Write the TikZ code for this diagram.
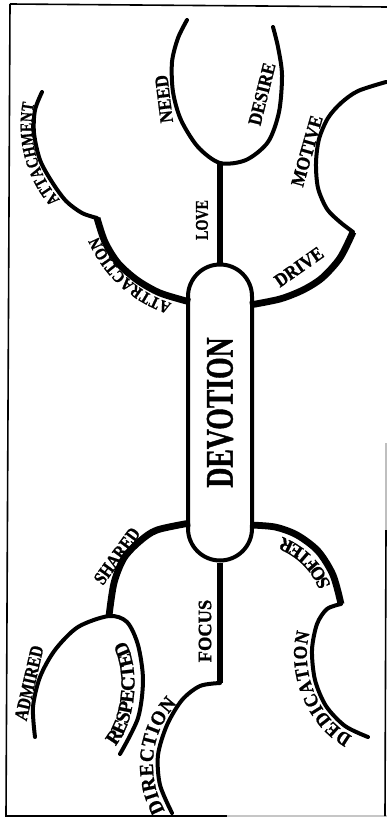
\documentclass[tikz,border=0pt]{standalone}
\usepackage{fontspec}
\setmainfont{Liberation Serif}[FakeBold=1]
\usepackage{graphicx}
\usetikzlibrary{decorations.text}
\newcommand\lblf[2]{\fontsize{#1}{#1}\selectfont\bfseries\addfontfeature{FakeStretch=#2}}
\newcommand\fATTR{\lblf{17}{0.85}}
\newcommand\fATTA{\lblf{17.5}{0.78}}
\newcommand\fRESP{\lblf{20}{1.0}}
\newcommand\fDIRE{\lblf{20}{0.95}}
\newcommand\fSOFT{\lblf{19}{0.97}}
\newcommand\fDEDI{\lblf{19.5}{0.9}}
\tikzset{
  thinbr/.style={line width=4pt, line cap=round, line join=round},
  thickbr/.style={line width=6.8pt, line cap=butt, line join=round},
  lbl/.style={inner sep=0pt},
  frameline/.style={line width=1.6pt},
  pill/.style={draw, line width=4pt, rounded corners=32pt, minimum width=64pt,
    minimum height=296pt, inner sep=0pt},
  curvelbl/.style n args={3}{decorate, decoration={text along path, text={#1},
    text align={left indent=#2}, raise=#3}}
}
\begin{document}
\begin{tikzpicture}[x=1pt,y=-1pt]
\useasboundingbox (0,0) rectangle (387,818);
% frame
\draw[frameline] (10,4) -- (387,7);
\draw[frameline] (10,4) -- (6,816) -- (227,816);
\draw[frameline, gray!45] (227,816) -- (387,816);
\draw[frameline, gray!50] (386,443) -- (386,530);
\draw[frameline] (386,530) -- (385,816);
% central node
\node[pill] (dev) at (220,412.5) {\rotatebox{90}{\lblf{39}{0.71}DEVOTION}};
% junctions
\coordinate (loveJ) at (220,163);
\coordinate (needE) at (187,20);
\coordinate (desireE) at (273,27);
\coordinate (driveS) at (250,305);
\coordinate (driveE) at (353,232);
\coordinate (motiveE) at (386,82);
\coordinate (attrS) at (190,302);
\coordinate (attrE) at (97,218);
\coordinate (attachE) at (42,92);
\coordinate (sharedS) at (190,523);
\coordinate (sharedE) at (109,616);
\coordinate (admE) at (35,737);
\coordinate (respE) at (120,754);
\coordinate (focusJ) at (220,683);
\coordinate (dirE) at (172,813);
\coordinate (softS) at (250,525);
\coordinate (softE) at (341,604);
\coordinate (dedE) at (368,737);
% branches
\draw[thickbr] (dev.north) -- (loveJ);
\draw[thinbr] plot[smooth] coordinates {(needE) (178,38) (172,62) (173,92) (181,120) (198,147) (loveJ) (246,160) (268,142) (279,112) (282,75) (278,47) (desireE)};
\draw[thickbr] plot[smooth] coordinates {(driveS) (280,299) (303,290) (322,278) (340,258) (driveE)};
\draw[thinbr] plot[smooth] coordinates {(driveE) (340,222) (327,209) (318,188) (316,163) (319,139) (328,118) (341,103) (358,91) (motiveE)};
\draw[thickbr] plot[smooth] coordinates {(attrS) (160,293) (137,280) (118,263) (105,242) (attrE)};
\draw[thinbr] plot[smooth] coordinates {(attrE) (82,213) (66,201) (52,182) (40,160) (34,133) (35,110) (attachE)};
\draw[thickbr] plot[smooth] coordinates {(sharedS) (157,530) (140,541) (124,558) (114,583) (sharedE)};
\draw[thinbr] plot[smooth] coordinates {(admE) (33,707) (40,677) (55,650) (78,627) (sharedE) (127,622) (138,645) (143,680) (138,718) (respE)};
\draw[thickbr] (dev.south) -- (focusJ);
\draw[thinbr] plot[smooth] coordinates {(focusJ) (200,686) (182,700) (167,725) (158,755) (160,785) (dirE)};
\draw[thickbr] plot[smooth] coordinates {(softS) (275,527) (297,535) (318,551) (333,575) (softE)};
\draw[thinbr] plot[smooth] coordinates {(softE) (327,609) (317,624) (312,650) (315,680) (326,706) (345,726) (dedE)};
% straight labels
\node[lbl, rotate=97, font={\lblf{19}{0.91}}] (need) at (164,99) {NEED};
\node[lbl, rotate=76, font={\lblf{19}{0.9}}] (desire) at (262,94) {DESIRE};
\node[lbl, rotate=90, font={\lblf{18}{0.78}}] (love) at (202,220) {LOVE};
\node[lbl, rotate=74, font={\lblf{19}{0.92}}] (motive) at (307,151) {MOTIVE};
\node[lbl, rotate=35, font={\lblf{19}{0.9}}] (drive) at (299,267) {DRIVE};
\node[lbl, rotate=54, font={\lblf{19}{0.82}}] (shared) at (117,556) {SHARED};
\node[lbl, rotate=77, font={\lblf{19}{0.82}}] (admired) at (29,683) {ADMIRED};
\node[lbl, rotate=90, font={\lblf{19}{0.97}}] (focus) at (205,631) {FOCUS};
% curved labels (text along the branches)
\path[curvelbl={|\fATTR|ATTRACTION}{17pt}{5.5pt}] (attrS) .. controls (150,296) and (105,265) .. (95,205);
\path[curvelbl={|\fATTA|ATTACHMENT}{40pt}{5pt}] (attrE) .. controls (55,205) and (25,150) .. (attachE);
\path[curvelbl={|\fRESP|RESPECTED}{4pt}{9pt}] (respE) .. controls (152,722) and (154,630) .. (sharedE);
\path[curvelbl={|\fDIRE|DIRECTION}{5pt}{5pt}] (dirE) .. controls (145,770) and (155,705) .. (focusJ);
\path[curvelbl={|\fSOFT|SOFTER}{22pt}{5.5pt}] (softE) .. controls (335,560) and (300,527) .. (softS);
\path[curvelbl={|\fDEDI|DEDICATION}{14pt}{5pt}] (dedE) .. controls (310,722) and (290,625) .. (softE);
\end{tikzpicture}
\end{document}
